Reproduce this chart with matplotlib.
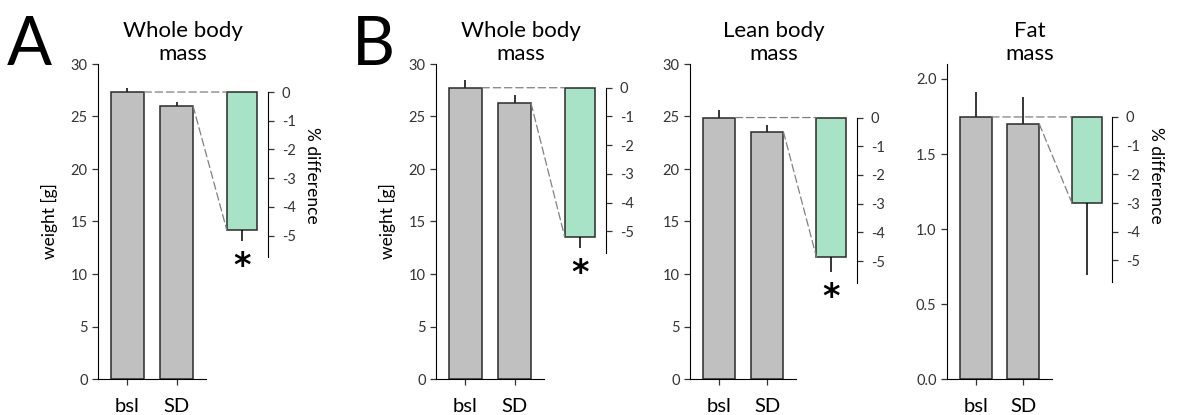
import numpy as np
import matplotlib
matplotlib.use('Agg')
import matplotlib.pyplot as plt
from matplotlib.patches import ConnectionPatch

plt.rcParams['font.family'] = ['Lato', 'DejaVu Sans']

# data
titles = ['Whole body\nmass', 'Whole body\nmass', 'Lean body\nmass', 'Fat\nmass']
bsl_mean = [27.33, 27.74, 24.9, 1.747]
bsl_err = [0.4, 0.75, 0.7, 0.166]
sd_mean = [26.0, 26.25, 23.55, 1.70]
sd_err = [0.4, 0.75, 0.65, 0.18]
pct_diff = [-4.8, -5.2, -4.86, -3.0]
pct_err = [0.4, 0.4, 0.52, 2.5]
signif = [True, True, True, False]
ymax = [30, 30, 30, 2.1]
yticks = [np.arange(0, 31, 5), np.arange(0, 31, 5), np.arange(0, 31, 5),
          np.arange(0, 2.01, 0.5)]
ytick_fmt = ['%d', '%d', '%d', '%.1f']
show_ylabel = [True, True, False, False]
show_pctlabel = [True, False, False, True]
pct_ticks = [0, -1, -2, -3, -4, -5]

# layout (pixels of 1179x415 figure)
W, H = 1179, 415
ax_left = [98, 436, 690, 947]
ax_right = [268, 606, 857, 1112]
ax_top, ax_bot = 64, 379
px_per_pct = 28.7

gray = '#c0c0c0'
green = '#a8e3c8'
edge = '#2a2a2a'

fig = plt.figure(figsize=(W / 100, H / 100), dpi=100)

for i in range(4):
    aw = ax_right[i] - ax_left[i]
    ax = fig.add_axes([ax_left[i] / W, (H - ax_bot) / H,
                       aw / W, (ax_bot - ax_top) / H])
    ax.set_xlim(-0.6, 2.86)
    ax.set_ylim(0, ymax[i])

    ax.bar([0, 1], [bsl_mean[i], sd_mean[i]], width=0.67, color=gray,
           edgecolor=edge, linewidth=1.1, zorder=2)
    ax.errorbar([0, 1], [bsl_mean[i], sd_mean[i]], yerr=[[0, 0], [bsl_err[i], sd_err[i]]],
                fmt='none', ecolor='black', elinewidth=1.1, capsize=0, zorder=1)

    for s in ['top', 'right']:
        ax.spines[s].set_visible(False)
    ax.spines['bottom'].set_bounds(-0.6, 1.6)
    ax.set_xticks([0, 1])
    ax.set_xticklabels(['bsl', 'SD'], fontsize=14.5)
    ax.set_yticks(yticks[i])
    ax.set_yticklabels([ytick_fmt[i] % v for v in yticks[i]], fontsize=10.5, color='#333333')
    ax.tick_params(axis='both', length=4, width=0.9, colors='#333333')
    ax.tick_params(axis='x', labelcolor='black', pad=10)
    ax.set_title(titles[i], fontsize=16, linespacing=1.2, pad=2)
    if show_ylabel[i]:
        ax.set_ylabel('weight [g]', fontsize=12.5)
        ax.yaxis.set_label_coords(-40 / aw, 0.5)

    # % difference axis, zero aligned to the baseline mean
    ax2 = ax.twinx()
    rng = (ax_bot - ax_top) / px_per_pct
    f = bsl_mean[i] / ymax[i]
    ax2.set_ylim(-f * rng, (1 - f) * rng)
    ax2.bar([2.33], [pct_diff[i]], width=0.62, color=green, edgecolor=edge,
            linewidth=1.1, zorder=2)
    ax2.errorbar([2.33], [pct_diff[i]], yerr=[[pct_err[i]], [0]], fmt='none',
                 ecolor='black', elinewidth=1.1, capsize=0)
    if signif[i]:
        ax2.text(2.33, pct_diff[i] - pct_err[i] - 0.3, '*', ha='center', va='top',
                 fontsize=24, fontweight='bold', family='DejaVu Sans')
    for s in ['top', 'left', 'bottom']:
        ax2.spines[s].set_visible(False)
    ax2.spines['right'].set_bounds(-5.75, 0)
    ax2.set_yticks(pct_ticks)
    ax2.set_yticklabels([str(v) if v == 0 else '-%d' % abs(v) for v in pct_ticks],
                        fontsize=10.5, color='#333333')
    ax2.tick_params(axis='y', length=4, width=0.9, colors='#333333', pad=6)
    if show_pctlabel[i]:
        ax2.set_ylabel('% difference', fontsize=12.5, rotation=270, va='center')
        ax2.yaxis.set_label_coords(1 + 44 / aw, 0.645)

    # dashed guides from grey bars to the difference bar
    for (xa, ya, yb) in [(0 + 0.335, bsl_mean[i], 0), (1 + 0.335, sd_mean[i], pct_diff[i])]:
        con = ConnectionPatch(xyA=(xa, ya), coordsA=ax.transData,
                              xyB=(2.33 - 0.31, yb), coordsB=ax2.transData,
                              linestyle=(0, (6, 3)), color='#808080', linewidth=0.9)
        fig.add_artist(con)

fig.text(7 / W, 1 - 65 / H, 'A', fontsize=48, ha='left', va='baseline')
fig.text(352 / W, 1 - 65 / H, 'B', fontsize=48, ha='left', va='baseline')

plt.savefig('out.png', dpi=100)
